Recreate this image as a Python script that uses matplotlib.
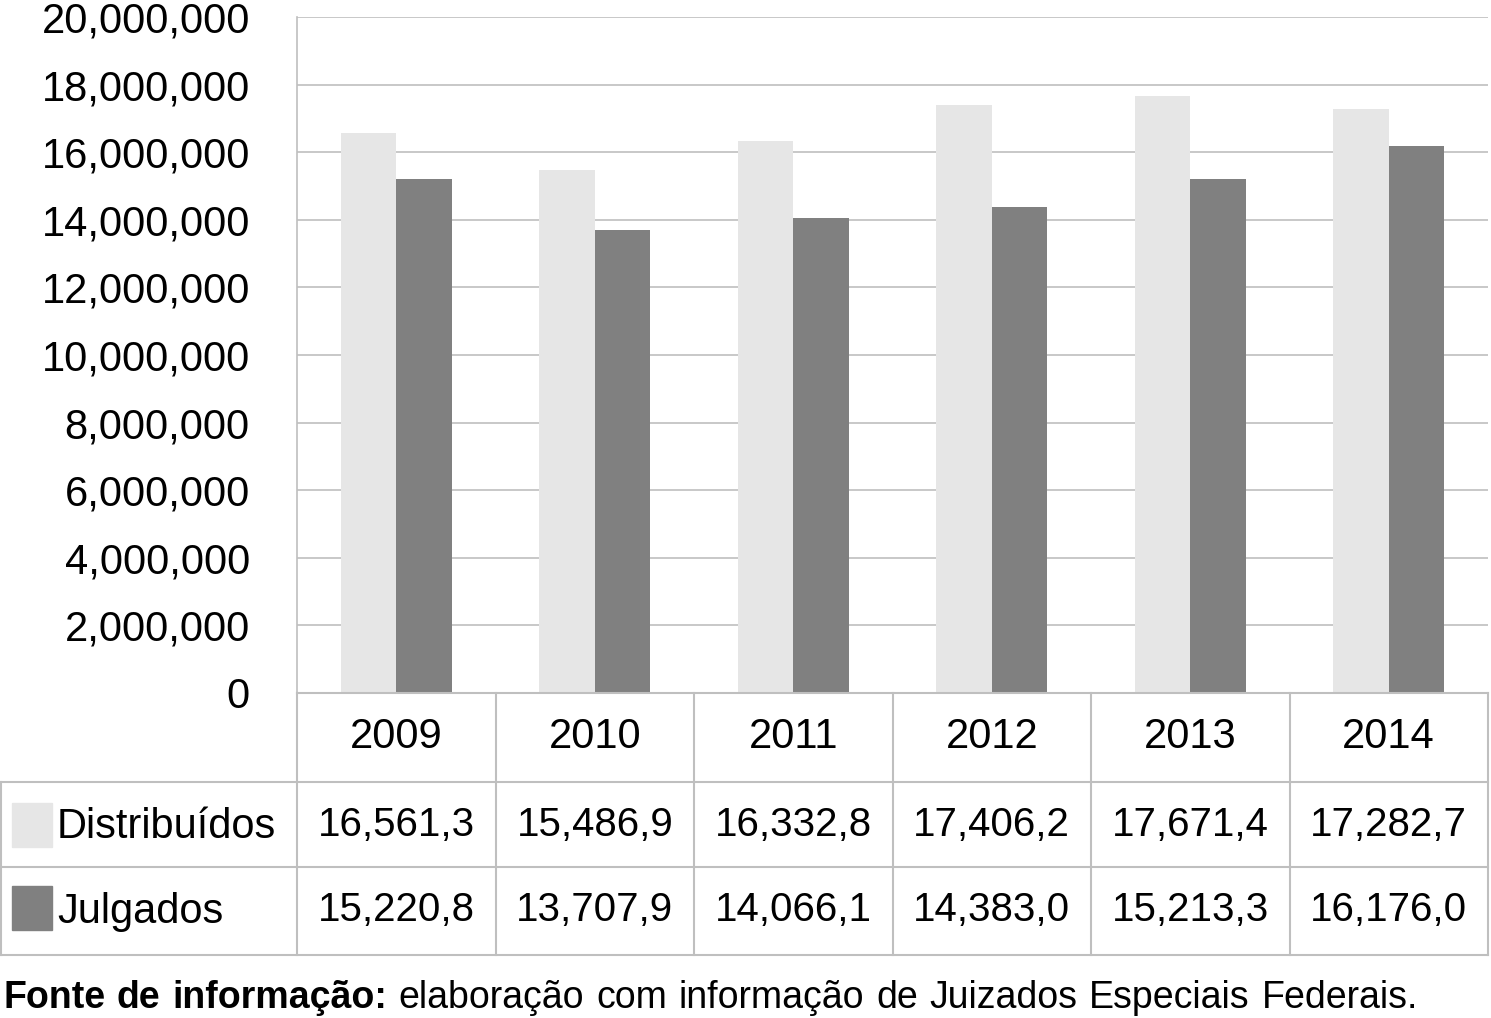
import matplotlib
matplotlib.use("Agg")
import matplotlib.pyplot as plt
from matplotlib.ticker import FuncFormatter

plt.rcParams['font.family'] = ['Liberation Sans', 'DejaVu Sans']

anos = ['2009', '2010', '2011', '2012', '2013', '2014']
series = ['Distribuídos', 'Julgados']
distribuidos = [16561.3, 15486.9, 16332.8, 17406.2, 17671.4, 17282.7]
julgados = [15220.8, 13707.9, 14066.1, 14383.0, 15213.3, 16176.0]
cores = ['#e6e6e6', '#808080']
fonte_bold = 'Fonte de informação:'
fonte_texto = 'elaboração com informação de Juizados Especiais Federais.'

W, H = 1491, 1018
grid_c = '#bfbfbf'
fig = plt.figure(figsize=(W / 100, H / 100), dpi=100)

# area do grafico (pixels)
x0, x1, ytop, ybot = 297, 1488, 17, 693
ax = fig.add_axes([x0 / W, 1 - ybot / H, (x1 - x0) / W, (ybot - ytop) / H])

n = len(anos)
bw = 0.28
xs = list(range(n))
valores = [distribuidos, julgados]
ax.bar([x - bw / 2 for x in xs], [v * 1000 for v in distribuidos], bw,
       color=cores[0], zorder=3)
ax.bar([x + bw / 2 for x in xs], [v * 1000 for v in julgados], bw,
       color=cores[1], zorder=3)

ax.set_xlim(-0.5, n - 0.5)
ax.set_ylim(0, 20000000)
ax.set_yticks(range(0, 20000001, 2000000))
ax.yaxis.set_major_formatter(FuncFormatter(lambda v, p: '{:,.0f}'.format(v)))
ax.tick_params(axis='y', length=0, pad=34, labelsize=30)
ax.set_xticks([])
ax.grid(axis='y', color=grid_c, linewidth=1.2, zorder=0)
for s in ['top', 'right', 'bottom']:
    ax.spines[s].set_visible(False)
ax.spines['left'].set_color(grid_c)
ax.spines['left'].set_linewidth(1.2)

# tabela de dados (coordenadas em pixels)
ov = fig.add_axes([0, 0, 1, 1])
ov.set_xlim(0, W)
ov.set_ylim(H, 0)
ov.axis('off')
ov.patch.set_visible(False)

rows = [693, 782, 867, 955]
colw = (x1 - x0) / n
cols = [x0 + i * colw for i in range(n + 1)]
lw = 1.5
ov.plot([x0, x1], [rows[0], rows[0]], color=grid_c, lw=lw)
for r in rows[1:]:
    ov.plot([1, x1], [r, r], color=grid_c, lw=lw)
for c in cols:
    ov.plot([c, c], [rows[0], rows[3]], color=grid_c, lw=lw)
ov.plot([1, 1], [rows[1], rows[3]], color=grid_c, lw=lw)

base = [836, 921]
for i, ano in enumerate(anos):
    cx = x0 + (i + 0.5) * colw
    ov.text(cx, 748, ano, ha='center', va='baseline', fontsize=30)
    for j, vals in enumerate(valores):
        s = '{:,.1f}'.format(vals[i]).replace('.', '#').replace('#', ',')
        ov.text(cx, base[j], s, ha='center', va='baseline', fontsize=29)

for j, nome in enumerate(series):
    ytop_sw = [803, 886][j]
    ov.add_patch(plt.Rectangle((12, ytop_sw), 40, 44, color=cores[j]))
    ov.text(57, base[j] + 2, nome, ha='left', va='baseline', fontsize=30)

# nota de fonte, justificada
fig.canvas.draw()
r = fig.canvas.get_renderer()
palavras = [(w, 'bold') for w in fonte_bold.split()] + [(w, 'normal') for w in fonte_texto.split()]
objs = []
for w, fw in palavras:
    t = ov.text(0, 1008, w, ha='left', va='baseline', fontsize=27, fontweight=fw)
    objs.append(t)
larg = [t.get_window_extent(r).width for t in objs]
xa, xb = 3, 1418
gap = (xb - xa - sum(larg)) / (len(objs) - 1)
x = xa
for t, w in zip(objs, larg):
    t.set_x(x)
    x += w + gap

fig.savefig('out.png', dpi=100)
